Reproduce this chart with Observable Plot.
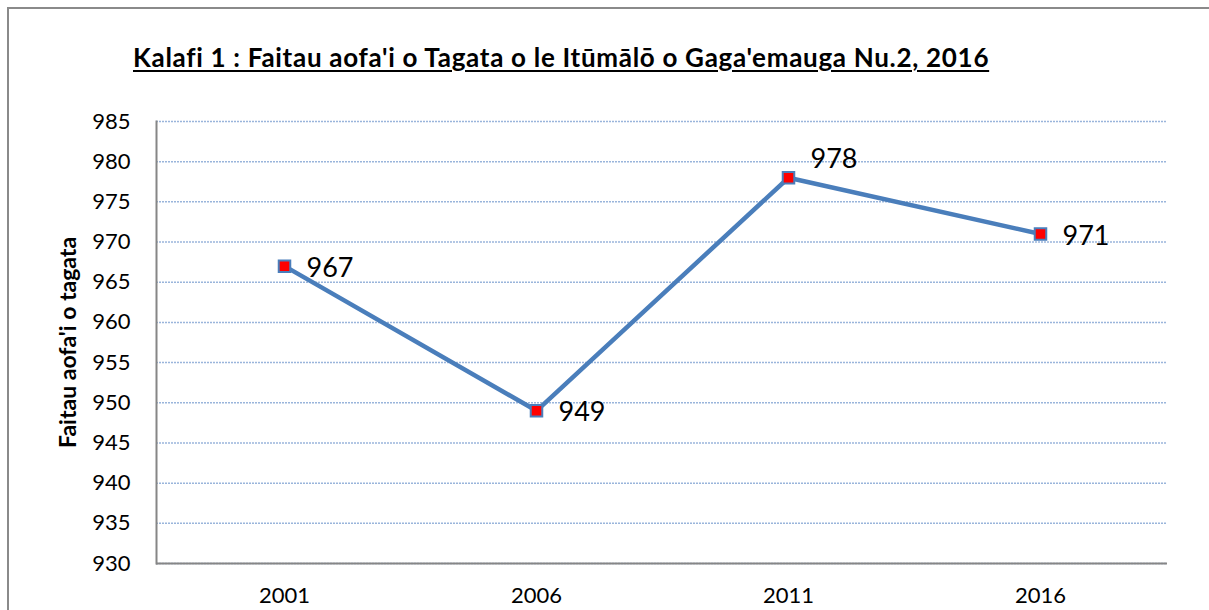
<!DOCTYPE html>
<html>
<head>
<meta charset="utf-8">
<script src="https://cdn.jsdelivr.net/npm/d3@7"></script>
<script src="https://cdn.jsdelivr.net/npm/@observablehq/plot@0.6"></script>
<style>
  html, body { margin: 0; padding: 0; background: #fff; overflow: hidden; }
  #wrap { position: relative; width: 1209px; height: 610px; }
  #frame { position: absolute; left: 7px; top: 7px; width: 1400px; height: 800px; border: 2px solid #8a8a8a; box-sizing: border-box; }
  #title { position: absolute; left: 133px; top: 41px; margin: 0; font-family: Lato, sans-serif; font-weight: bold; font-size: 26px; letter-spacing: 0.7px; color: #000; text-decoration: underline; text-decoration-thickness: 2px; text-underline-offset: 3px; white-space: nowrap; }
  #chart { position: absolute; left: 0; top: 0; }
</style>
</head>
<body>
<div id="wrap">
  <div id="frame"></div>
  <div id="title">Kalafi 1 : Faitau aofa'i o Tagata o le Itūmālō o Gaga'emauga Nu.2, 2016</div>
  <div id="chart"></div>
</div>
<script>
const years = ["2001", "2006", "2011", "2016"];
const population = [967, 949, 978, 971];
const yTicks = [930, 935, 940, 945, 950, 955, 960, 965, 970, 975, 980, 985];
const yLabel = "Faitau aofa'i o tagata";

const data = years.map((y, i) => ({year: y, value: population[i]}));

const font = "Lato, sans-serif";
const plot = Plot.plot({
  width: 1209,
  height: 610,
  marginLeft: 156,
  marginRight: 42,
  marginTop: 121,
  marginBottom: 47,
  style: {fontFamily: font, fontSize: "22px", background: "transparent", color: "#000"},
  x: {type: "band", domain: years, padding: 0, align: 0.5},
  y: {domain: [930, 985]},
  marks: [
    Plot.gridY(yTicks, {stroke: "#9ab5db", strokeOpacity: 1, strokeWidth: 1.5, strokeDasharray: "2,1"}),
    Plot.axisY(yTicks, {tickSize: 0, tickPadding: 26, label: null, fontSize: 22, tickFormat: d => String(d)}),
    Plot.axisX({tickSize: 0, tickPadding: 24, label: null, fontSize: 22}),
    Plot.frame({anchor: "left", stroke: "#868686", strokeWidth: 2}),
    Plot.ruleY([930], {stroke: "#868686", strokeWidth: 2}),
    Plot.text([yLabel], {frameAnchor: "left", textAnchor: "middle", dx: -88, rotate: -90, fontWeight: "bold", fontSize: 23, fill: "#000"}),
    Plot.line(data, {x: "year", y: "value", stroke: "#4a7ebb", strokeWidth: 4.5}),
    Plot.dot(data, {x: "year", y: "value", symbol: "square", r: 6.5, fill: "#ff0000", stroke: "#4a7ebb", strokeWidth: 2}),
    Plot.text(data.filter(d => d.year !== "2011"), {x: "year", y: "value", text: d => String(d.value), textAnchor: "start", dx: 22, dy: 2, fontSize: 27, fill: "#000"}),
    Plot.text(data.filter(d => d.year === "2011"), {x: "year", y: "value", text: d => String(d.value), textAnchor: "start", dx: 22, dy: -18, fontSize: 27, fill: "#000"})
  ]
});
document.getElementById("chart").appendChild(plot);
</script>
</body>
</html>
